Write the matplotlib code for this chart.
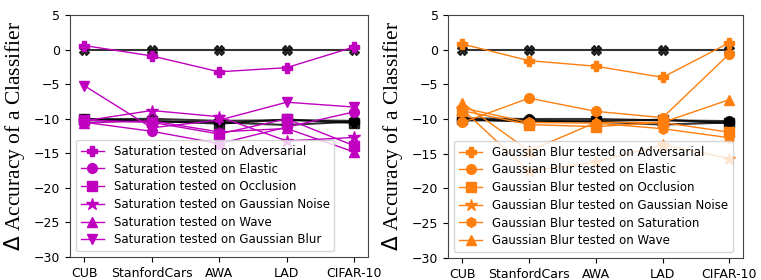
import matplotlib.pyplot as plt
import numpy as np

datasets = ["CUB", "StanfordCars", "AWA", "LAD", "CIFAR-10"]

# left panel: trained with Saturation
sat_labels = ["Adversarial", "Elastic", "Occlusion", "Gaussian Noise", "Wave", "Gaussian Blur"]
sat_markers = ["P", "o", "s", "*", "^", "v"]
sat_values = [
    [0.6, -0.9, -3.2, -2.6, 0.4],
    [-10.5, -11.8, -13.6, -11.2, -9.0],
    [-10.2, -10.5, -12.2, -10.0, -13.9],
    [-10.3, -8.8, -9.7, -13.2, -12.7],
    [-10.6, -10.3, -11.9, -11.4, -14.8],
    [-5.2, -11.3, -10.2, -7.6, -8.3],
]

# right panel: trained with Gaussian Blur
blur_labels = ["Adversarial", "Elastic", "Occlusion", "Gaussian Noise", "Saturation", "Wave"]
blur_markers = ["P", "o", "s", "*", "h", "^"]
blur_values = [
    [0.8, -1.6, -2.4, -4.0, 1.0],
    [-10.5, -7.0, -8.9, -9.8, -0.6],
    [-8.8, -10.8, -11.1, -10.5, -11.9],
    [-8.6, -17.5, -16.2, -13.7, -15.7],
    [-8.4, -10.5, -10.6, -11.4, -12.7],
    [-7.7, -14.6, -10.5, -10.5, -7.2],
]

# black reference lines
ref_zero = [0, 0, 0, 0, 0]
ref_left = [
    ("o", [-10.1, -10.0, -10.3, -10.2, -10.3]),
    ("s", [-10.0, -10.3, -10.7, -10.1, -10.6]),
    ("P", [-10.2, -10.4, -10.5, -10.9, -10.4]),
]
ref_right = [
    ("o", [-9.9, -10.0, -10.0, -10.2, -10.3]),
    ("s", [-10.0, -10.4, -10.3, -10.1, -10.6]),
    ("P", [-10.2, -10.2, -10.4, -10.8, -10.5]),
]

fig = plt.figure(figsize=(7.61, 2.8), dpi=100)
ax1 = fig.add_axes([0.092, 0.082, 0.392, 0.864])
ax2 = fig.add_axes([0.589, 0.079, 0.388, 0.868])

x = np.arange(len(datasets))


def draw(ax, prefix, labels, markers, values, color, refs):
    ax.plot(x, ref_zero, color="black", marker="X", markersize=7, linewidth=1.5, alpha=0.8, zorder=3)
    for m, v in refs:
        ax.plot(x, v, color="black", marker=m, markersize=7, linewidth=1.5, alpha=0.8, zorder=3)
    for lab, m, v in zip(labels, markers, values):
        ms = 9 if m == "*" else 7
        ax.plot(x, v, color=color, marker=m, markersize=ms, linewidth=1,
                label=f"{prefix} tested on {lab}", zorder=4)
    ax.set_ylim(-30, 5)
    ax.set_xlim(-0.21, 4.21)
    ax.set_xticks(x)
    ax.set_xticklabels(datasets, fontsize=9)
    ax.tick_params(axis="y", labelsize=9)
    ax.set_yticks(np.arange(-30, 6, 5))
    ax.set_ylabel(r"$\Delta$ Accuracy of a Classifier", fontsize=15.5, family="Liberation Serif", labelpad=5)
    for s in ax.spines.values():
        s.set_color("#444444")
    leg = ax.legend(loc="lower left", fontsize=8.5, framealpha=0.8, labelspacing=0.4, handlelength=2)
    leg.set_zorder(5)


draw(ax1, "Saturation", sat_labels, sat_markers, sat_values, "m", ref_left)
draw(ax2, "Gaussian Blur", blur_labels, blur_markers, blur_values, "#ff7f0e", ref_right)

fig.savefig("out.png", dpi=100)
